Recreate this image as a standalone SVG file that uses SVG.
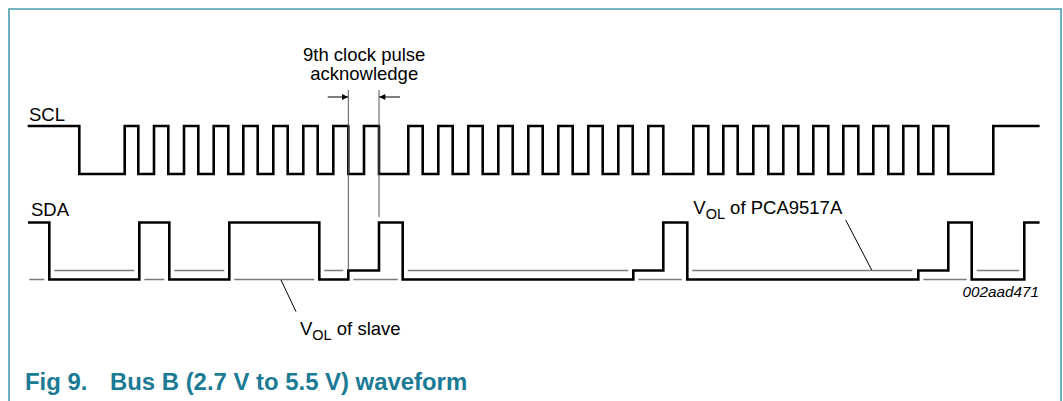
<svg xmlns="http://www.w3.org/2000/svg" width="1063" height="401" viewBox="0 0 1063 401">
<style>
.frame{fill:none;stroke:#4a9cb0;stroke-width:1.6}
.wave{fill:none;stroke:#000;stroke-width:2.6;stroke-linejoin:miter;stroke-linecap:square}
.lvl{fill:none;stroke:#7a7a7a;stroke-width:1.3}
.ref{fill:none;stroke:#555;stroke-width:1}
.lead{fill:none;stroke:#000;stroke-width:1}
.lbl{font-family:"Liberation Sans",Arial,sans-serif;font-size:18.5px;fill:#000}
.sub{font-size:14.5px}
.code{font-family:"Liberation Sans",Arial,sans-serif;font-size:15.3px;font-style:italic;fill:#000}
.title{font-family:"Liberation Sans",Arial,sans-serif;font-size:23.9px;font-weight:bold;fill:#1b7a94}
</style>
<defs>
<marker id="ah" viewBox="0 0 10 10" refX="10" refY="5" markerWidth="8" markerHeight="6" markerUnits="userSpaceOnUse" orient="auto">
<path d="M0,0 L10,5 L0,10 Z" fill="#000"/>
</marker>
</defs>
<path class="frame" d="M9,401 V9 H1061 V401"/>
<g id="scl">
<text class="lbl" x="29" y="120.7">SCL</text>
<path class="wave" d="M29,126 H79.3 V174 H124.7 V126 H138.3 V174 H154 V126 H168.3 V174 H184 V126 H198.3 V174 H213.7 V126 H228.3 V174 H243.3 V126 H257.7 V174 H273.3 V126 H287.7 V174 H303.3 V126 H317.7 V174 H333.3 V126 H348.3 V174 H364 V126 H379 V174 H408.3 V126 H422.7 V174 H438.3 V126 H452.7 V174 H468.3 V126 H482.7 V174 H498.3 V126 H512.7 V174 H528.3 V126 H542.7 V174 H558.3 V126 H572.7 V174 H588.3 V126 H602.7 V174 H618.3 V126 H632.7 V174 H648.3 V126 H663.3 V174 H693.3 V126 H708.3 V174 H723.3 V126 H737.7 V174 H753.3 V126 H768.3 V174 H783.3 V126 H798.3 V174 H813.3 V126 H828.3 V174 H843.3 V126 H858.3 V174 H873.3 V126 H888.3 V174 H903.3 V126 H918.3 V174 H933.3 V126 H948.3 V174 H993.3 V126 H1038.3"/>
</g>
<g id="sda">
<text class="lbl" x="31" y="215.5">SDA</text>
<path class="lvl" d="M54.3,270.5 H134.3 M174.3,270.5 H224.3 M324.3,270.5 H343.3 M407.7,270.5 H628.3 M692.3,270.5 H912.3 M976.7,270.5 H1019.3"/>
<path class="lvl" d="M29.3,279.5 H44.3 M144.3,279.5 H164.3 M234.3,279.5 H314.3 M353.3,279.5 H397.7 M638.3,279.5 H681.7 M923.3,279.5 H966.7"/>
<path class="wave" d="M29.3,222.5 H49.3 V279.5 H139.3 V222.5 H169.3 V279.5 H229.3 V222.5 H319.3 V279.5 H348.3 V270.5 H379 V222.5 H402.7 V279.5 H633.3 V270.5 H663.3 V222.5 H687.3 V279.5 H918.3 V270.5 H948.3 V222.5 H971.7 V279.5 H1024.3 V222.5 H1038.3"/>
</g>
<g id="ack">
<text class="lbl" x="364.2" y="61" text-anchor="middle">9th clock pulse</text>
<text class="lbl" x="364.2" y="80" text-anchor="middle">acknowledge</text>
</g>
<g id="vol-slave">
<text class="lbl" x="300" y="335">V<tspan class="sub" dy="4.5">OL</tspan><tspan dy="-4.5"> of slave</tspan></text>
</g>
<g id="vol-pca">
<text class="lbl" x="693.3" y="214">V<tspan class="sub" dy="4.5">OL</tspan><tspan dy="-4.5"> of PCA9517A</tspan></text>
</g>
<g id="code">
<text class="code" x="1039" y="297" text-anchor="end">002aad471</text>
</g>
<g id="connectors">
<path class="ref" d="M348.3,90 V270 M379,90 V217"/>
<path class="lead" d="M327.7,97 H348" marker-end="url(#ah)"/>
<path class="lead" d="M400,97 H379.3" marker-end="url(#ah)"/>
<path class="lead" d="M281,280 L296,311.7"/>
<path class="lead" d="M845.7,220 L871.7,270"/>
</g>
<g id="caption">
<text class="title" x="25" y="390">Fig 9.</text>
<text class="title" x="110" y="390">Bus B (2.7 V to 5.5 V) waveform</text>
</g>
</svg>
